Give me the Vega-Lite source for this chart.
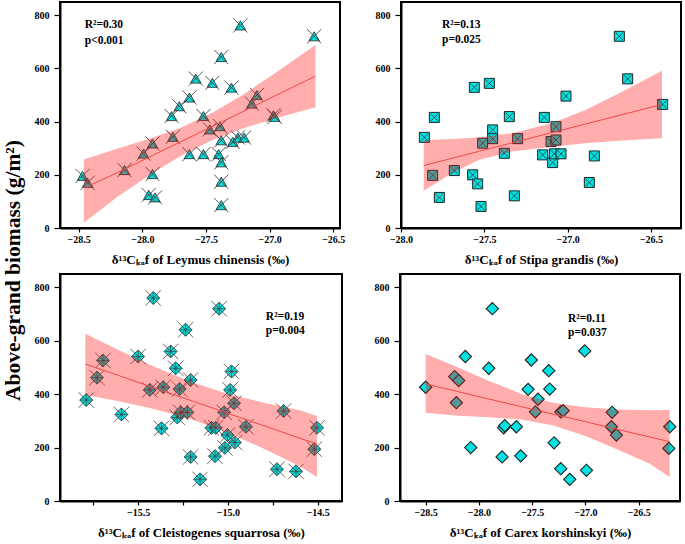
{
  "$schema": "https://vega.github.io/schema/vega-lite/v6.json",
  "padding": {"left": 2, "top": 1, "right": 2, "bottom": 0},
  "title": {"text": "Above-grand biomass (g/m²)", "orient": "left", "anchor": "middle", "font": "Liberation Serif", "fontSize": 21.5, "fontWeight": "bold", "color": "black", "offset": 9},
  "datasets": {
    "leymus": [
      {"d13C": -28.47, "biomass": 196}, {"d13C": -28.43, "biomass": 170}, {"d13C": -28.14, "biomass": 218}, {"d13C": -27.99, "biomass": 280},
      {"d13C": -27.92, "biomass": 318}, {"d13C": -27.92, "biomass": 203}, {"d13C": -27.95, "biomass": 124}, {"d13C": -27.90, "biomass": 115},
      {"d13C": -27.77, "biomass": 421}, {"d13C": -27.76, "biomass": 343}, {"d13C": -27.71, "biomass": 458}, {"d13C": -27.63, "biomass": 491},
      {"d13C": -27.63, "biomass": 278}, {"d13C": -27.58, "biomass": 562}, {"d13C": -27.52, "biomass": 421}, {"d13C": -27.52, "biomass": 278},
      {"d13C": -27.47, "biomass": 371}, {"d13C": -27.45, "biomass": 546}, {"d13C": -27.39, "biomass": 383}, {"d13C": -27.38, "biomass": 643},
      {"d13C": -27.38, "biomass": 330}, {"d13C": -27.40, "biomass": 278}, {"d13C": -27.38, "biomass": 247}, {"d13C": -27.38, "biomass": 174},
      {"d13C": -27.38, "biomass": 86}, {"d13C": -27.30, "biomass": 528}, {"d13C": -27.29, "biomass": 324}, {"d13C": -27.25, "biomass": 340},
      {"d13C": -27.20, "biomass": 340}, {"d13C": -27.23, "biomass": 762}, {"d13C": -27.14, "biomass": 468}, {"d13C": -27.10, "biomass": 500},
      {"d13C": -26.97, "biomass": 424}, {"d13C": -26.96, "biomass": 418}, {"d13C": -26.65, "biomass": 721}
    ],
    "leymusBand": [
      {"d13C": -28.46, "lo": 20, "hi": 258, "fit": 150}, {"d13C": -28.2, "lo": 116, "hi": 298, "fit": 207},
      {"d13C": -27.95, "lo": 197, "hi": 335, "fit": 266}, {"d13C": -27.7, "lo": 271, "hi": 377, "fit": 324},
      {"d13C": -27.45, "lo": 331, "hi": 433, "fit": 382}, {"d13C": -27.2, "lo": 376, "hi": 504, "fit": 440},
      {"d13C": -26.95, "lo": 413, "hi": 585, "fit": 499}, {"d13C": -26.64, "lo": 454, "hi": 688, "fit": 571}
    ],
    "stipa": [
      {"d13C": -27.86, "biomass": 341}, {"d13C": -27.80, "biomass": 416}, {"d13C": -27.81, "biomass": 198}, {"d13C": -27.77, "biomass": 115},
      {"d13C": -27.68, "biomass": 216}, {"d13C": -27.56, "biomass": 529}, {"d13C": -27.57, "biomass": 200}, {"d13C": -27.54, "biomass": 166},
      {"d13C": -27.52, "biomass": 81}, {"d13C": -27.51, "biomass": 319}, {"d13C": -27.47, "biomass": 544}, {"d13C": -27.45, "biomass": 369},
      {"d13C": -27.45, "biomass": 336}, {"d13C": -27.38, "biomass": 281}, {"d13C": -27.35, "biomass": 419}, {"d13C": -27.32, "biomass": 121},
      {"d13C": -27.30, "biomass": 336}, {"d13C": -27.15, "biomass": 275}, {"d13C": -27.14, "biomass": 416}, {"d13C": -27.10, "biomass": 325},
      {"d13C": -27.09, "biomass": 246}, {"d13C": -27.07, "biomass": 381}, {"d13C": -27.07, "biomass": 331}, {"d13C": -27.08, "biomass": 279},
      {"d13C": -27.04, "biomass": 279}, {"d13C": -27.01, "biomass": 496}, {"d13C": -26.87, "biomass": 171}, {"d13C": -26.84, "biomass": 271},
      {"d13C": -26.69, "biomass": 721}, {"d13C": -26.64, "biomass": 561}, {"d13C": -26.43, "biomass": 465}
    ],
    "stipaBand": [
      {"d13C": -27.864, "lo": 140, "hi": 331, "fit": 235}, {"d13C": -27.694, "lo": 206, "hi": 335, "fit": 262},
      {"d13C": -27.534, "lo": 256, "hi": 340, "fit": 288}, {"d13C": -27.334, "lo": 288, "hi": 356, "fit": 320},
      {"d13C": -27.094, "lo": 306, "hi": 394, "fit": 359}, {"d13C": -26.894, "lo": 319, "hi": 444, "fit": 391},
      {"d13C": -26.694, "lo": 328, "hi": 506, "fit": 423}, {"d13C": -26.434, "lo": 338, "hi": 591, "fit": 465}
    ],
    "cleist": [
      {"d13C": -15.789, "biomass": 378}, {"d13C": -15.729, "biomass": 462}, {"d13C": -15.696, "biomass": 526}, {"d13C": -15.593, "biomass": 324},
      {"d13C": -15.5, "biomass": 541}, {"d13C": -15.435, "biomass": 416}, {"d13C": -15.416, "biomass": 760}, {"d13C": -15.37, "biomass": 272},
      {"d13C": -15.36, "biomass": 426}, {"d13C": -15.319, "biomass": 560}, {"d13C": -15.291, "biomass": 497}, {"d13C": -15.282, "biomass": 313},
      {"d13C": -15.269, "biomass": 419}, {"d13C": -15.263, "biomass": 332}, {"d13C": -15.236, "biomass": 641}, {"d13C": -15.226, "biomass": 332},
      {"d13C": -15.208, "biomass": 453}, {"d13C": -15.208, "biomass": 165}, {"d13C": -15.155, "biomass": 81}, {"d13C": -15.092, "biomass": 274},
      {"d13C": -15.068, "biomass": 274}, {"d13C": -15.072, "biomass": 168}, {"d13C": -15.049, "biomass": 720}, {"d13C": -15.021, "biomass": 332},
      {"d13C": -15.017, "biomass": 199}, {"d13C": -15.003, "biomass": 247}, {"d13C": -14.988, "biomass": 416}, {"d13C": -14.98, "biomass": 485},
      {"d13C": -14.966, "biomass": 366}, {"d13C": -14.962, "biomass": 219}, {"d13C": -14.9, "biomass": 278}, {"d13C": -14.727, "biomass": 119},
      {"d13C": -14.69, "biomass": 337}, {"d13C": -14.621, "biomass": 111}, {"d13C": -14.519, "biomass": 194}, {"d13C": -14.504, "biomass": 274}
    ],
    "cleistBand": [
      {"d13C": -15.794, "lo": 397, "hi": 626, "fit": 513}, {"d13C": -15.6, "lo": 373, "hi": 563, "fit": 468},
      {"d13C": -15.4, "lo": 343, "hi": 500, "fit": 421}, {"d13C": -15.2, "lo": 305, "hi": 445, "fit": 375},
      {"d13C": -15.0, "lo": 255, "hi": 401, "fit": 328}, {"d13C": -14.8, "lo": 196, "hi": 368, "fit": 282},
      {"d13C": -14.6, "lo": 130, "hi": 340, "fit": 235}, {"d13C": -14.504, "lo": 90, "hi": 318, "fit": 213}
    ],
    "carex": [
      {"d13C": -28.5, "biomass": 426}, {"d13C": -28.228, "biomass": 466}, {"d13C": -28.19, "biomass": 451}, {"d13C": -28.212, "biomass": 368},
      {"d13C": -28.128, "biomass": 541}, {"d13C": -28.077, "biomass": 200}, {"d13C": -27.908, "biomass": 497}, {"d13C": -27.874, "biomass": 720},
      {"d13C": -27.783, "biomass": 165}, {"d13C": -27.768, "biomass": 274}, {"d13C": -27.758, "biomass": 282}, {"d13C": -27.649, "biomass": 278},
      {"d13C": -27.608, "biomass": 169}, {"d13C": -27.539, "biomass": 418}, {"d13C": -27.508, "biomass": 528}, {"d13C": -27.47, "biomass": 334},
      {"d13C": -27.445, "biomass": 381}, {"d13C": -27.345, "biomass": 488}, {"d13C": -27.336, "biomass": 419}, {"d13C": -27.295, "biomass": 218},
      {"d13C": -27.232, "biomass": 334}, {"d13C": -27.21, "biomass": 338}, {"d13C": -27.232, "biomass": 121}, {"d13C": -27.148, "biomass": 81},
      {"d13C": -27.007, "biomass": 562}, {"d13C": -26.991, "biomass": 115}, {"d13C": -26.75, "biomass": 332}, {"d13C": -26.757, "biomass": 278},
      {"d13C": -26.71, "biomass": 247}, {"d13C": -26.209, "biomass": 278}, {"d13C": -26.218, "biomass": 197}
    ],
    "carexBand": [
      {"d13C": -28.5, "lo": 330, "hi": 550, "fit": 438}, {"d13C": -28.2, "lo": 319, "hi": 501, "fit": 410},
      {"d13C": -27.9, "lo": 314, "hi": 448, "fit": 381}, {"d13C": -27.6, "lo": 305, "hi": 401, "fit": 353},
      {"d13C": -27.3, "lo": 283, "hi": 367, "fit": 325}, {"d13C": -27.0, "lo": 243, "hi": 351, "fit": 297},
      {"d13C": -26.7, "lo": 193, "hi": 343, "fit": 268}, {"d13C": -26.4, "lo": 140, "hi": 340, "fit": 240},
      {"d13C": -26.21, "lo": 90, "hi": 341, "fit": 222}
    ]
  },
  "spacing": 6,
  "vconcat": [
    {
      "spacing": 28,
      "hconcat": [
        {
          "width": 280, "height": 226,
          "layer": [
            {
              "data": {"name": "leymus"},
              "mark": {"type": "point", "shape": "triangle-up", "filled": true, "fill": "#00e3e3", "stroke": "#222222", "strokeWidth": 0.8, "size": 110, "opacity": 1},
              "encoding": {
                "x": {"field": "d13C", "type": "quantitative", "scale": {"domain": [-28.647, -26.447], "nice": false, "zero": false},
                      "axis": {"values": [-28.5, -28, -27.5, -27, -26.5], "format": ".1f", "title": "δ¹³Cₗₑₐf of Leymus chinensis (‰)"}},
                "y": {"field": "biomass", "type": "quantitative", "scale": {"domain": [0, 850], "nice": false},
                      "axis": {"values": [0, 100, 200, 300, 400, 500, 600, 700, 800], "labelExpr": "datum.value % 200 == 0 ? datum.label : ''", "title": null}}
              }
            },
            {
              "data": {"name": "leymus"},
              "mark": {"type": "point", "shape": "M-1,-1L1,1M-1,1L1,-1", "filled": false, "stroke": "#444444", "strokeWidth": 0.9, "size": 200, "opacity": 1},
              "encoding": {"x": {"field": "d13C", "type": "quantitative"}, "y": {"field": "biomass", "type": "quantitative", "title": null}}
            },
            {
              "data": {"name": "leymusBand"},
              "mark": {"type": "area", "color": "#ff0000", "opacity": 0.32},
              "encoding": {"x": {"field": "d13C", "type": "quantitative"}, "y": {"field": "lo", "type": "quantitative", "title": null}, "y2": {"field": "hi"}}
            },
            {
              "data": {"name": "leymusBand"},
              "mark": {"type": "line", "color": "#f04848", "strokeWidth": 1},
              "encoding": {"x": {"field": "d13C", "type": "quantitative"}, "y": {"field": "fit", "type": "quantitative", "title": null}}
            },
            {
              "data": {"values": [{}]},
              "mark": {"type": "text", "align": "left", "baseline": "middle", "font": "Liberation Serif", "fontWeight": "bold", "fontSize": 11.5, "lineHeight": 15.5, "color": "black"},
              "encoding": {"x": {"datum": -28.453}, "y": {"datum": 763}, "text": {"value": ["R²=0.30", "p<0.001"]}}
            }
          ]
        },
        {
          "width": 280, "height": 226,
          "layer": [
            {
              "data": {"name": "stipa"},
              "mark": {"type": "point", "shape": "square", "filled": true, "fill": "#00e3e3", "stroke": "#222222", "strokeWidth": 1, "size": 100, "opacity": 1},
              "encoding": {
                "x": {"field": "d13C", "type": "quantitative", "scale": {"domain": [-28.0, -26.32], "nice": false, "zero": false},
                      "axis": {"values": [-28, -27.5, -27, -26.5], "format": ".1f", "title": "δ¹³Cₗₑₐf of Stipa grandis (‰)"}},
                "y": {"field": "biomass", "type": "quantitative", "scale": {"domain": [0, 850], "nice": false},
                      "axis": {"values": [0, 100, 200, 300, 400, 500, 600, 700, 800], "labelExpr": "datum.value % 200 == 0 ? datum.label : ''", "title": null}}
              }
            },
            {
              "data": {"name": "stipa"},
              "mark": {"type": "point", "shape": "M-1,-1L1,1M-1,1L1,-1", "filled": false, "stroke": "#333333", "strokeWidth": 0.8, "size": 60, "opacity": 1},
              "encoding": {"x": {"field": "d13C", "type": "quantitative"}, "y": {"field": "biomass", "type": "quantitative", "title": null}}
            },
            {
              "data": {"name": "stipaBand"},
              "mark": {"type": "area", "color": "#ff0000", "opacity": 0.32},
              "encoding": {"x": {"field": "d13C", "type": "quantitative"}, "y": {"field": "lo", "type": "quantitative", "title": null}, "y2": {"field": "hi"}}
            },
            {
              "data": {"name": "stipaBand"},
              "mark": {"type": "line", "color": "#f04848", "strokeWidth": 1},
              "encoding": {"x": {"field": "d13C", "type": "quantitative"}, "y": {"field": "fit", "type": "quantitative", "title": null}}
            },
            {
              "data": {"values": [{}]},
              "mark": {"type": "text", "align": "left", "baseline": "middle", "font": "Liberation Serif", "fontWeight": "bold", "fontSize": 11.5, "lineHeight": 14.5, "color": "black"},
              "encoding": {"x": {"datum": -27.754}, "y": {"datum": 763}, "text": {"value": ["R²=0.13", "p=0.025"]}}
            }
          ]
        }
      ]
    },
    {
      "spacing": 30,
      "hconcat": [
        {
          "width": 282, "height": 227,
          "layer": [
            {
              "data": {"name": "cleist"},
              "mark": {"type": "point", "shape": "diamond", "filled": true, "fill": "#00e3e3", "stroke": "#222222", "strokeWidth": 0.8, "size": 170, "opacity": 1},
              "encoding": {
                "x": {"field": "d13C", "type": "quantitative", "scale": {"domain": [-15.935, -14.365], "nice": false, "zero": false},
                      "axis": {"values": [-15.75, -15.5, -15.25, -15, -14.75, -14.5], "labelExpr": "abs(datum.value * 2 - round(datum.value * 2)) < 0.01 ? format(datum.value, '.1f') : ''", "title": "δ¹³Cₗₑₐf of Cleistogenes squarrosa (‰)"}},
                "y": {"field": "biomass", "type": "quantitative", "scale": {"domain": [0, 850], "nice": false},
                      "axis": {"values": [0, 100, 200, 300, 400, 500, 600, 700, 800], "labelExpr": "datum.value % 200 == 0 ? datum.label : ''", "title": null}}
              }
            },
            {
              "data": {"name": "cleist"},
              "mark": {"type": "point", "shape": "M-1,-1L1,1M-1,1L1,-1M0,-0.75L0,0.75M-0.75,0L0.75,0", "filled": false, "stroke": "#444444", "strokeWidth": 0.8, "size": 240, "opacity": 1},
              "encoding": {"x": {"field": "d13C", "type": "quantitative"}, "y": {"field": "biomass", "type": "quantitative", "title": null}}
            },
            {
              "data": {"name": "cleistBand"},
              "mark": {"type": "area", "color": "#ff0000", "opacity": 0.32},
              "encoding": {"x": {"field": "d13C", "type": "quantitative"}, "y": {"field": "lo", "type": "quantitative", "title": null}, "y2": {"field": "hi"}}
            },
            {
              "data": {"name": "cleistBand"},
              "mark": {"type": "line", "color": "#f04848", "strokeWidth": 1},
              "encoding": {"x": {"field": "d13C", "type": "quantitative"}, "y": {"field": "fit", "type": "quantitative", "title": null}}
            },
            {
              "data": {"values": [{}]},
              "mark": {"type": "text", "align": "left", "baseline": "middle", "font": "Liberation Serif", "fontWeight": "bold", "fontSize": 11.5, "lineHeight": 14, "color": "black"},
              "encoding": {"x": {"datum": -14.789}, "y": {"datum": 689}, "text": {"value": ["R²=0.19", "p=0.004"]}}
            }
          ]
        },
        {
          "width": 280, "height": 227,
          "layer": [
            {
              "data": {"name": "carex"},
              "mark": {"type": "point", "shape": "diamond", "filled": true, "fill": "#00e3e3", "stroke": "#222222", "strokeWidth": 1.1, "size": 150, "opacity": 1},
              "encoding": {
                "x": {"field": "d13C", "type": "quantitative", "scale": {"domain": [-28.741, -26.113], "nice": false, "zero": false},
                      "axis": {"values": [-28.5, -28, -27.5, -27, -26.5], "format": ".1f", "title": "δ¹³Cₗₑₐf of Carex korshinskyi (‰)"}},
                "y": {"field": "biomass", "type": "quantitative", "scale": {"domain": [0, 850], "nice": false},
                      "axis": {"values": [0, 100, 200, 300, 400, 500, 600, 700, 800], "labelExpr": "datum.value % 200 == 0 ? datum.label : ''", "title": null}}
              }
            },
            {
              "data": {"name": "carexBand"},
              "mark": {"type": "area", "color": "#ff0000", "opacity": 0.32},
              "encoding": {"x": {"field": "d13C", "type": "quantitative"}, "y": {"field": "lo", "type": "quantitative", "title": null}, "y2": {"field": "hi"}}
            },
            {
              "data": {"name": "carexBand"},
              "mark": {"type": "line", "color": "#f04848", "strokeWidth": 1},
              "encoding": {"x": {"field": "d13C", "type": "quantitative"}, "y": {"field": "fit", "type": "quantitative", "title": null}}
            },
            {
              "data": {"values": [{}]},
              "mark": {"type": "text", "align": "left", "baseline": "middle", "font": "Liberation Serif", "fontWeight": "bold", "fontSize": 11.5, "lineHeight": 14, "color": "black"},
              "encoding": {"x": {"datum": -27.164}, "y": {"datum": 681}, "text": {"value": ["R²=0.11", "p=0.037"]}}
            }
          ]
        }
      ]
    }
  ],
  "config": {
    "font": "Liberation Serif",
    "view": {"stroke": "black", "strokeWidth": 2},
    "axis": {"grid": false, "labelFont": "Liberation Serif", "labelFontWeight": "bold", "labelFontSize": 10, "labelColor": "black",
             "titleFont": "Liberation Serif", "titleFontWeight": "bold", "titleFontSize": 13, "titleColor": "black",
             "domainColor": "black", "domainWidth": 2, "tickColor": "black", "tickWidth": 1.2, "labelFlush": false, "labelOverlap": false},
    "axisX": {"tickSize": 4, "labelPadding": 2, "titlePadding": 9},
    "axisY": {"tickSize": 6, "labelPadding": 5}
  }
}
